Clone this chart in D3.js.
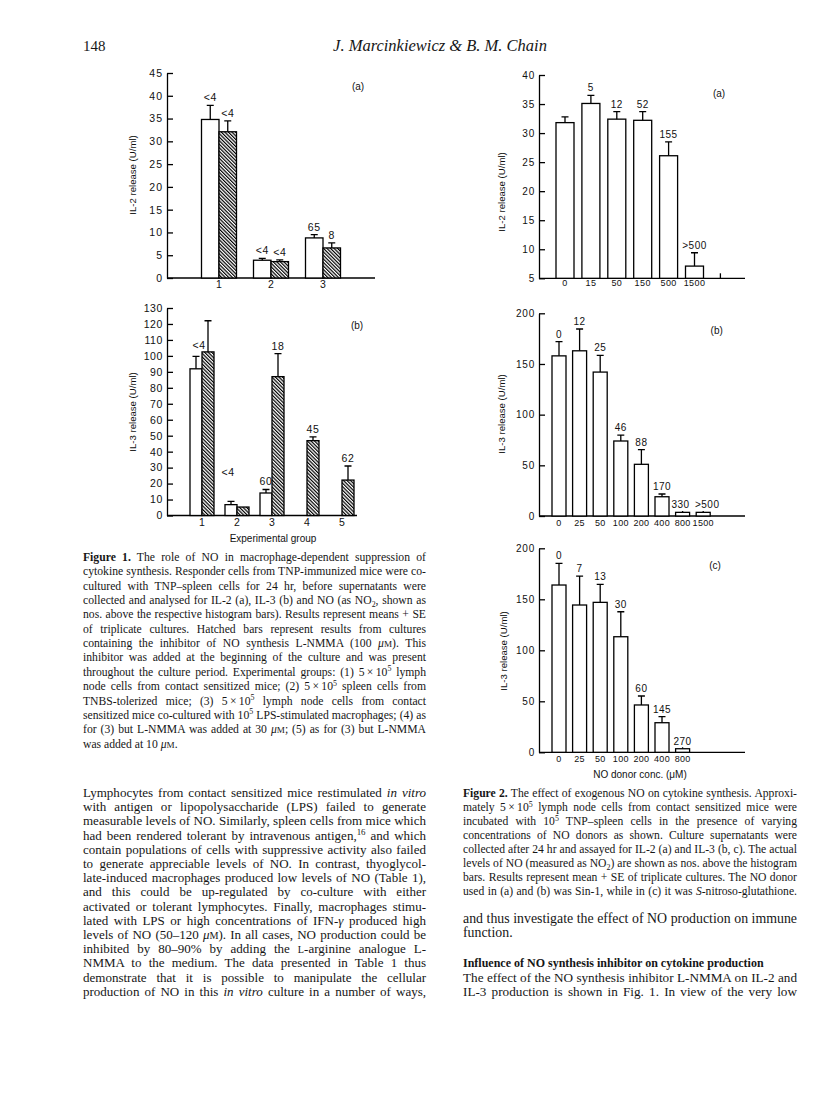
<!DOCTYPE html>
<html>
<head>
<meta charset="utf-8">
<script src="https://cdn.jsdelivr.net/npm/d3@7"></script>
<style>
  html, body { margin: 0; padding: 0; background: #fff; }
  svg { display: block; }
  .chart text { font-family: "Liberation Sans", Arial, sans-serif; fill: #111; }
  .page text { font-family: "Liberation Serif", "Times New Roman", serif; fill: #161616; }
</style>
</head>
<body>
<svg id="page" width="816" height="1114"></svg>
<script>
// ---- Figure 1: experimental groups, open = control, hatched = + L-NMMA
const fig1aGroups = ["1", "2", "3"];
const fig1aIL2 = [34.8, 3.9, 8.8];
const fig1aIL2SE = [3.1, 0.4, 0.7];
const fig1aIL2Nmma = [32.1, 3.6, 6.6];
const fig1aIL2NmmaSE = [2.4, 0.4, 1.1];
const fig1aNO = ["<4", "<4", "65"];
const fig1aNONmma = ["<4", "<4", "8"];
const fig1aYTicks = [0, 5, 10, 15, 20, 25, 30, 35, 40, 45];

const fig1bGroups = ["1", "2", "3", "4", "5"];
const fig1bIL3 = [91.9, 6.8, 14.1, null, null];
const fig1bIL3SE = [7.8, 2.1, 2.2, null, null];
const fig1bIL3Nmma = [102.5, 5.3, 87.0, 46.9, 22.2];
const fig1bIL3NmmaSE = [19.5, 0, 14.4, 2.3, 8.8];
const fig1bNO = ["<4", "<4", "60", "", ""];
const fig1bNONmma = ["", "", "18", "45", "62"];
const fig1bYTicks = [0, 10, 20, 30, 40, 50, 60, 70, 80, 90, 100, 110, 120, 130];

// ---- Figure 2: NO donor concentration (uM)
const fig2aDose = ["0", "15", "50", "150", "500", "1500"];
const fig2aSlots = ["0", "15", "50", "150", "500", "1500", ""];
const fig2aIL2 = [31.8, 35.1, 32.4, 32.2, 26.1, 7.1];
const fig2aIL2SE = [1.0, 1.4, 1.3, 1.5, 2.4, 2.3];
const fig2aNO = ["", "5", "12", "52", "155", ">500"];
const fig2aYTicks = [5, 10, 15, 20, 25, 30, 35, 40];

const fig2bDose = ["0", "25", "50", "100", "200", "400", "800", "1500"];
const fig2bIL3 = [158, 163, 142, 74, 51, 19, 3.6, 3.6];
const fig2bIL3SE = [14, 21.5, 16.5, 5.7, 14.5, 2.7, 0, 0];
const fig2bNO = ["0", "12", "25", "46", "88", "170", "330", ">500"];

const fig2cDose = ["0", "25", "50", "100", "200", "400", "800"];
const fig2cIL3 = [164, 144.4, 147, 113.3, 46.4, 29, 3.5];
const fig2cIL3SE = [21.3, 28.4, 17.7, 24.5, 8.8, 5.9, 0];
const fig2cNO = ["0", "7", "13", "30", "60", "145", "270"];
const fig2YTicks = [0, 50, 100, 150, 200];

// ---- page text
const headerPage = "148";
const headerAuthors = "J. Marcinkiewicz & B. M. Chain";

const caption1 = [
  "**Figure 1.** The role of NO in macrophage-dependent suppression of",
  "cytokine synthesis. Responder cells from TNP-immunized mice were co-",
  "cultured with TNP–spleen cells for 24 hr, before supernatants were",
  "collected and analysed for IL-2 (a), IL-3 (b) and NO (as NO_{2}, shown as",
  "nos. above the respective histogram bars). Results represent means + SE",
  "of triplicate cultures. Hatched bars represent results from cultures",
  "containing the inhibitor of NO synthesis L-NMMA (100 *μ*~M~). This",
  "inhibitor was added at the beginning of the culture and was present",
  "throughout the culture period. Experimental groups: (1) 5\u2009×\u200910^{5} lymph",
  "node cells from contact sensitized mice; (2) 5\u2009×\u200910^{5} spleen cells from",
  "TNBS-tolerized mice; (3) 5\u2009×\u200910^{5} lymph node cells from contact",
  "sensitized mice co-cultured with 10^{5} LPS-stimulated macrophages; (4) as",
  "for (3) but L-NMMA was added at 30 *μ*~M~; (5) as for (3) but L-NMMA",
  "was added at 10 *μ*~M~."
];

const caption2 = [
  "**Figure 2.** The effect of exogenous NO on cytokine synthesis. Approxi-",
  "mately 5\u2009×\u200910^{5} lymph node cells from contact sensitized mice were",
  "incubated with 10^{5} TNP–spleen cells in the presence of varying",
  "concentrations of NO donors as shown. Culture supernatants were",
  "collected after 24 hr and assayed for IL-2 (a) and IL-3 (b, c). The actual",
  "levels of NO (measured as NO_{2}) are shown as nos. above the histogram",
  "bars. Results represent mean + SE of triplicate cultures. The NO donor",
  "used in (a) and (b) was Sin-1, while in (c) it was *S*-nitroso-glutathione."
];

const bodyLeft = [
  "Lymphocytes from contact sensitized mice restimulated *in vitro*",
  "with antigen or lipopolysaccharide (LPS) failed to generate",
  "measurable levels of NO. Similarly, spleen cells from mice which",
  "had been rendered tolerant by intravenous antigen,^{16} and which",
  "contain populations of cells with suppressive activity also failed",
  "to generate appreciable levels of NO. In contrast, thyoglycol-",
  "late-induced macrophages produced low levels of NO (Table 1),",
  "and this could be up-regulated by co-culture with either",
  "activated or tolerant lymphocytes. Finally, macrophages stimu-",
  "lated with LPS or high concentrations of IFN-*γ* produced high",
  "levels of NO (50–120 *μ*~M~). In all cases, NO production could be",
  "inhibited by 80–90% by adding the ~L~-arginine analogue L-",
  "NMMA to the medium. The data presented in Table 1 thus",
  "demonstrate that it is possible to manipulate the cellular",
  "production of NO in this *in vitro* culture in a number of ways,"
];

const bodyRight1 = [
  "and thus investigate the effect of NO production on immune",
  "function."
];
const headingRight = "Influence of NO synthesis inhibitor on cytokine production";
const bodyRight2 = [
  "The effect of the NO synthesis inhibitor L-NMMA on IL-2 and",
  "IL-3 production is shown in Fig. 1. In view of the very low"
];

const svg = d3.select("#page");
svg.append("rect").attr("width", 816).attr("height", 1114).attr("fill", "#fff");

const hatch = svg.append("defs").append("pattern")
  .attr("id", "hatch")
  .attr("patternUnits", "userSpaceOnUse")
  .attr("width", 2.5)
  .attr("height", 2.5)
  .attr("patternTransform", "rotate(-45)");
hatch.append("rect").attr("width", 2.5).attr("height", 2.5).attr("fill", "#fff");
hatch.append("line").attr("x1", 0.6).attr("x2", 0.6).attr("y1", 0).attr("y2", 2.5)
  .attr("stroke", "#000").attr("stroke-width", 1.2);

function drawPanel(cfg) {
  const g = svg.append("g").attr("class", "chart");
  const y = d3.scaleLinear().domain(cfg.yDomain).range(cfg.yRange);
  const x = d3.scaleBand().domain(cfg.slots).range(cfg.xRange);
  const base = cfg.yRange[0];

  // y axis, ticks pointing inward
  g.append("g")
    .attr("transform", `translate(${cfg.axisX},0)`)
    .call(d3.axisLeft(y).tickValues(cfg.yTicks).tickSize(-6).tickSizeOuter(0).tickPadding(4))
    .call((a) => a.selectAll("path, line").attr("stroke", "#000").attr("stroke-width", 1.3))
    .call((a) => a.selectAll("text").attr("font-size", cfg.yTickFont).style("letter-spacing", cfg.yTickLs + "px"));

  // x axis
  g.append("line")
    .attr("x1", cfg.axisX).attr("x2", cfg.axisEnd)
    .attr("y1", base).attr("y2", base)
    .attr("stroke", "#000").attr("stroke-width", 1.3);
  g.append("g")
    .attr("transform", `translate(0,${base})`)
    .call(d3.axisBottom(x).tickValues(cfg.xTicks).tickSize(cfg.xTickSize).tickSizeOuter(0).tickPadding(cfg.xTickPad))
    .call((a) => a.select(".domain").remove())
    .call((a) => a.selectAll("line").attr("stroke", "#000").attr("stroke-width", 1.3))
    .call((a) => a.selectAll("text").attr("font-size", cfg.xTickFont).style("letter-spacing", cfg.xTickLs + "px"));

  cfg.series.forEach((s, si) => {
    const items = s.values
      .map((v, i) => ({ i, cat: cfg.cats[i], v, se: s.se[i] || 0, lab: s.labels[i] }))
      .filter((d) => d.v != null);
    const left = (d) => x(d.cat) + x.bandwidth() / 2 + s.shift * cfg.barW;
    const mid = (d) => left(d) + cfg.barW / 2;

    const sg = g.append("g");
    sg.selectAll("rect")
      .data(items)
      .join("rect")
      .attr("x", left)
      .attr("width", cfg.barW)
      .attr("y", (d) => y(d.v))
      .attr("height", (d) => base - y(d.v))
      .attr("fill", s.hatched ? "url(#hatch)" : "#fff")
      .attr("stroke", "#000")
      .attr("stroke-width", 1.3);

    const err = items.filter((d) => d.se > 0);
    sg.selectAll(".err")
      .data(err)
      .join("path")
      .attr("class", "err")
      .attr("fill", "none")
      .attr("stroke", "#000")
      .attr("stroke-width", 1.3)
      .attr("d", (d) => `M${mid(d)},${y(d.v)}V${y(d.v + d.se)}M${mid(d) - 3.5},${y(d.v + d.se)}H${mid(d) + 3.5}`);

    sg.selectAll(".lab")
      .data(items.filter((d) => d.lab))
      .join("text")
      .attr("class", "lab")
      .attr("text-anchor", "middle")
      .attr("font-size", cfg.labFont)
      .style("letter-spacing", cfg.labLs + "px")
      .attr("x", (d) => mid(d) + ((cfg.nudge[si + "-" + d.i] || [0, 0])[0]))
      .attr("y", (d) => y(d.v + d.se) - 4 + ((cfg.nudge[si + "-" + d.i] || [0, 0])[1]))
      .text((d) => d.lab);
  });

  g.append("text")
    .attr("x", cfg.tag[1]).attr("y", cfg.tag[2])
    .attr("text-anchor", "middle").attr("font-size", 10)
    .text(cfg.tag[0]);

  g.append("text")
    .attr("transform", `translate(${cfg.yTitle[1]},${cfg.yTitle[2]}) rotate(-90)`)
    .attr("text-anchor", "middle").attr("dominant-baseline", "central")
    .attr("font-size", 9.6)
    .text(cfg.yTitle[0]);

  if (cfg.xTitle) {
    g.append("text")
      .attr("x", cfg.xTitle[1]).attr("y", cfg.xTitle[2])
      .attr("text-anchor", "middle").attr("font-size", 10)
      .text(cfg.xTitle[0]);
  }
}

// Figure 1 (a)
drawPanel({
  axisX: 167, axisEnd: 375,
  yDomain: [0, 45], yRange: [278, 73], yTicks: fig1aYTicks, yTickFont: 10.5, yTickLs: 1,
  slots: fig1aGroups, cats: fig1aGroups, xRange: [193, 349],
  xTicks: fig1aGroups, xTickSize: 0, xTickPad: 3, xTickFont: 10.5, xTickLs: 0,
  barW: 17.5, labFont: 10.5, labLs: 0.6, nudge: {},
  series: [
    { values: fig1aIL2, se: fig1aIL2SE, labels: fig1aNO, hatched: false, shift: -1 },
    { values: fig1aIL2Nmma, se: fig1aIL2NmmaSE, labels: fig1aNONmma, hatched: true, shift: 0 }
  ],
  tag: ["(a)", 358, 89.5],
  yTitle: ["IL-2 release (U/ml)", 132, 175]
});

// Figure 1 (b)
drawPanel({
  axisX: 167, axisEnd: 357,
  yDomain: [0, 130], yRange: [515.5, 308], yTicks: fig1bYTicks, yTickFont: 10.5, yTickLs: 0.6,
  slots: fig1bGroups, cats: fig1bGroups, xRange: [184.5, 359.5],
  xTicks: fig1bGroups, xTickSize: 0, xTickPad: 3, xTickFont: 10.5, xTickLs: 0,
  barW: 12, labFont: 10.5, labLs: 0.6,
  nudge: { "0-0": [3, -3.5], "0-1": [-3, -21.5] },
  series: [
    { values: fig1bIL3, se: fig1bIL3SE, labels: fig1bNO, hatched: false, shift: -1 },
    { values: fig1bIL3Nmma, se: fig1bIL3NmmaSE, labels: fig1bNONmma, hatched: true, shift: 0 }
  ],
  tag: ["(b)", 357, 328.5],
  yTitle: ["IL-3 release (U/ml)", 132, 412],
  xTitle: ["Experimental group", 273, 541.5]
});

// Figure 2 (a)
drawPanel({
  axisX: 539, axisEnd: 745,
  yDomain: [5, 40], yRange: [278.3, 75], yTicks: fig2aYTicks, yTickFont: 10, yTickLs: 0.8,
  slots: fig2aSlots, cats: fig2aDose, xRange: [552.05, 733.35],
  xTicks: fig2aSlots, xTickSize: -5, xTickPad: 1, xTickFont: 9, xTickLs: 0.4,
  barW: 18, labFont: 10, labLs: 0.5, nudge: {},
  series: [{ values: fig2aIL2, se: fig2aIL2SE, labels: fig2aNO, hatched: false, shift: -0.5 }],
  tag: ["(a)", 719, 96.5],
  yTitle: ["IL-2 release (U/ml)", 501.7, 192]
});

// Figure 2 (b)
drawPanel({
  axisX: 539, axisEnd: 745,
  yDomain: [0, 200], yRange: [516, 313.3], yTicks: fig2YTicks, yTickFont: 10, yTickLs: 0.8,
  slots: fig2bDose, cats: fig2bDose, xRange: [548.7, 713.5],
  xTicks: fig2bDose, xTickSize: -5, xTickPad: 4, xTickFont: 9, xTickLs: 0.3,
  barW: 14, labFont: 10, labLs: 0.5, nudge: { "0-6": [-2, 0], "0-7": [4, 0] },
  series: [{ values: fig2bIL3, se: fig2bIL3SE, labels: fig2bNO, hatched: false, shift: -0.5 }],
  tag: ["(b)", 716.7, 334],
  yTitle: ["IL-3 release (U/ml)", 501.5, 414]
});

// Figure 2 (c)
drawPanel({
  axisX: 539, axisEnd: 745,
  yDomain: [0, 200], yRange: [752.3, 548.3], yTicks: fig2YTicks, yTickFont: 10, yTickLs: 0.8,
  slots: fig2bDose, cats: fig2cDose, xRange: [548.7, 713.5],
  xTicks: fig2cDose, xTickSize: -5, xTickPad: 3, xTickFont: 9, xTickLs: 0.3,
  barW: 14, labFont: 10, labLs: 0.5, nudge: {},
  series: [{ values: fig2cIL3, se: fig2cIL3SE, labels: fig2cNO, hatched: false, shift: -0.5 }],
  tag: ["(c)", 715, 568.5],
  yTitle: ["IL-3 release (U/ml)", 503, 651],
  xTitle: ["NO donor conc. (μM)", 640, 777.5]
});

// ---- text with a tiny markup: **bold** *italic* ^{sup} _{sub} ~small~
function richLine(text, str) {
  const re = /\*\*(.+?)\*\*|\*(.+?)\*|\^\{(.+?)\}|_\{(.+?)\}|~(.+?)~/g;
  let last = 0, m, pending = null;
  const add = (t, attrs = {}) => {
    const ts = text.append("tspan").text(t);
    if (pending) { ts.attr("dy", pending); pending = null; }
    Object.entries(attrs).forEach(([k, v]) => ts.attr(k, v));
  };
  while ((m = re.exec(str))) {
    if (m.index > last) add(str.slice(last, m.index));
    if (m[1]) add(m[1], { "font-weight": "bold" });
    else if (m[2]) add(m[2], { "font-style": "italic" });
    else if (m[3]) { add(m[3], { "font-size": "68%", dy: "-0.55em" }); pending = "0.374em"; }
    else if (m[4]) { add(m[4], { "font-size": "68%", dy: "0.35em" }); pending = "-0.238em"; }
    else if (m[5]) add(m[5], { "font-size": "78%" });
    last = re.lastIndex;
  }
  if (last < str.length) add(str.slice(last));
}

// justified block: widest line sets the font size, the rest get word spacing
function textBlock({ x, width, y, lh, size, lines, justify }) {
  const g = svg.append("g").attr("class", "page").attr("font-size", size);
  const texts = lines.map((ln, i) => {
    const t = g.append("text").attr("x", x).attr("y", y + i * lh);
    richLine(t, ln);
    return t;
  });
  let maxW = 0;
  texts.forEach((t, i) => { if (justify(i)) maxW = Math.max(maxW, t.node().getComputedTextLength()); });
  if (maxW > width) g.attr("font-size", (size * width) / maxW * 0.998);
  texts.forEach((t, i) => {
    if (!justify(i)) return;
    const natural = t.node().getComputedTextLength();
    const gaps = (t.text().match(/ /g) || []).length;
    if (gaps > 0 && natural < width) {
      t.style("word-spacing", (width - natural) / gaps + "px");
      const now = t.node().getComputedTextLength();
      if (Math.abs(now - width) > 1) {
        t.style("word-spacing", null).attr("textLength", width).attr("lengthAdjust", "spacing");
      }
    }
  });
  return g;
}

const pg = svg.append("g").attr("class", "page");
pg.append("text").attr("x", 83).attr("y", 51).attr("font-size", 15).text(headerPage);
pg.append("text").attr("x", 440).attr("y", 51).attr("text-anchor", "middle")
  .attr("font-size", 16.5).attr("font-style", "italic").text(headerAuthors);

textBlock({ x: 83, width: 343, y: 561, lh: 14.35, size: 12.5, lines: caption1, justify: (i) => i < caption1.length - 1 });
textBlock({ x: 463, width: 334, y: 797.3, lh: 13.95, size: 12.5, lines: caption2, justify: () => true });
textBlock({ x: 83, width: 343, y: 797, lh: 14.2, size: 14, lines: bodyLeft, justify: () => true });
textBlock({ x: 463, width: 334, y: 923, lh: 14.3, size: 14, lines: bodyRight1, justify: (i) => i === 0 });

const head = pg.append("text").attr("x", 463).attr("y", 967).attr("font-size", 13).attr("font-weight", "bold").text(headingRight);
head.attr("font-size", 13 * 301 / head.node().getComputedTextLength());

textBlock({ x: 463, width: 334, y: 981.5, lh: 14.2, size: 14, lines: bodyRight2, justify: () => true });
</script>
</body>
</html>
